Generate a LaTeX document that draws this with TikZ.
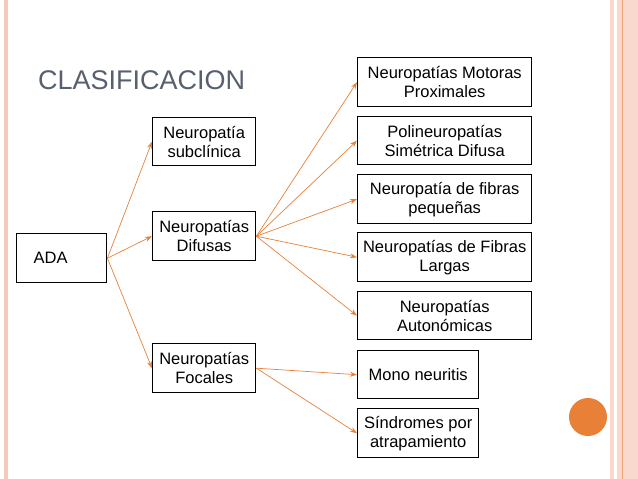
\documentclass[tikz,border=0pt]{standalone}
\usepackage{fontspec}
\setmainfont{Liberation Sans}
\usetikzlibrary{arrows.meta}
\definecolor{arrorange}{RGB}{232,128,56}
\definecolor{titlegray}{RGB}{88,96,110}
\definecolor{edgepink}{RGB}{247,200,185}
\tikzset{
	box/.style={draw=black, line width=1.4pt, align=center, font=\fontsize{16.5pt}{19pt}\selectfont, inner sep=0pt},
	link/.style={draw=arrorange, line width=.7pt, -{Stealth[length=7pt,width=5pt]}}
}
\begin{document}
\begin{tikzpicture}[x=1pt, y=-1pt]
	\useasboundingbox (0,0) rectangle (638,479);
	% slide frame
	\fill[edgepink] (4,0) rectangle (8,479);
	\fill[edgepink!70] (610,0) rectangle (638,479);
	\fill[white] (614,0) rectangle (617,479);
	\draw[arrorange!70, line width=.6pt] (622,0) -- (622,479);
	\fill[arrorange] (588,417) circle (19);
	\node[anchor=west, text=titlegray, font=\fontsize{27pt}{30pt}\selectfont, inner sep=0pt] (title) at (38,80) {CLASIFICACION};
	% boxes
	\node[box, minimum width=90, minimum height=49, anchor=north west, text width=80, align=left] (ada) at (16,233) {\hspace*{12pt}ADA};
	\node[box, minimum width=103, minimum height=48, anchor=north west] (sub) at (152,117) {Neuropatía\\subclínica};
	\node[box, minimum width=103, minimum height=49, anchor=north west] (dif) at (152,211) {Neuropatías\\Difusas};
	\node[box, minimum width=103, minimum height=49, anchor=north west] (foc) at (152,343) {Neuropatías\\Focales};
	\node[box, minimum width=174, minimum height=49, anchor=north west] (mot) at (357,57) {Neuropatías Motoras\\Proximales};
	\node[box, minimum width=174, minimum height=48, anchor=north west] (pol) at (357,116) {Polineuropatías\\Simétrica Difusa};
	\node[box, minimum width=174, minimum height=49, anchor=north west] (peq) at (357,174) {Neuropatía de fibras\\pequeñas};
	\node[box, minimum width=174, minimum height=49, anchor=north west] (lar) at (357,232) {Neuropatías de Fibras\\Largas};
	\node[box, minimum width=174, minimum height=48, anchor=north west] (aut) at (357,291) {Neuropatías\\Autonómicas};
	\node[box, minimum width=121, minimum height=48, anchor=north west] (mono) at (357,350) {Mono neuritis};
	\node[box, minimum width=121, minimum height=49, anchor=north west] (sin) at (357,408) {Síndromes por\\atrapamiento};
	% connectors
	\foreach \t in {sub,dif,foc} \draw[link] (ada.east) -- (\t.west);
	\foreach \t in {mot,pol,peq,lar,aut} \draw[link] (dif.east) -- (\t.west);
	\foreach \t in {mono,sin} \draw[link] (foc.east) -- (\t.west);
\end{tikzpicture}
\end{document}
